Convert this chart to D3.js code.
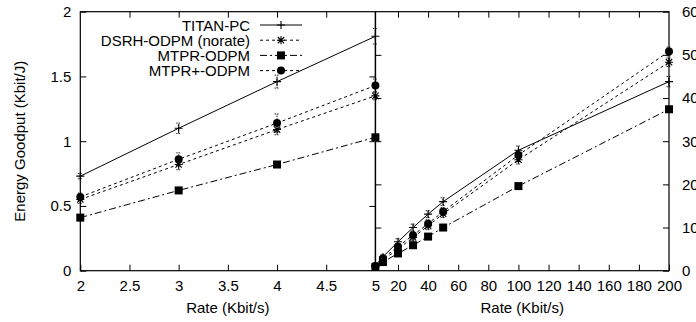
<!DOCTYPE html>
<html>
<head>
<meta charset="utf-8">
<script src="https://cdn.jsdelivr.net/npm/d3@7"></script>
<style>
  html, body { margin: 0; padding: 0; background: #fff; }
  svg { display: block; font-family: "Liberation Sans", Arial, Helvetica, sans-serif; }
</style>
</head>
<body>
<svg id="chart" width="696" height="322"></svg>
<script>
// ---------- data ----------
const leftRates = [2, 3, 4, 5];
const titanLeft = [0.73, 1.10, 1.46, 1.81];
const dsrhLeft = [0.55, 0.82, 1.09, 1.35];
const mtprLeft = [0.41, 0.62, 0.82, 1.03];
const mtprPlusLeft = [0.57, 0.86, 1.14, 1.43];
const titanLeftErr = [0.02, 0.04, 0.05, 0.06];
const dsrhLeftErr = [0.03, 0.04, 0.04, 0.03];
const mtprLeftErr = [0.01, 0.01, 0.02, 0.02];
const mtprPlusLeftErr = [0.03, 0.05, 0.07, 0.05];

const rightRates = [5, 10, 20, 30, 40, 50, 100, 200];
const titanRight = [1.2, 3.2, 6.7, 10.0, 13.1, 16.0, 27.9, 43.8];
const dsrhRight = [1.0, 2.5, 5.0, 7.7, 10.4, 13.2, 25.7, 48.3];
const mtprRight = [0.9, 2.0, 4.0, 5.9, 7.9, 10.0, 19.6, 37.4];
const mtprPlusRight = [1.1, 2.8, 5.6, 8.2, 10.9, 13.7, 26.8, 50.8];
const titanRightErr = [0.3, 0.5, 0.7, 0.8, 0.8, 0.9, 1.0, 1.2];
const dsrhRightErr = [0.3, 0.5, 0.7, 0.8, 0.9, 0.9, 1.0, 1.0];
const mtprRightErr = [0.2, 0.2, 0.3, 0.3, 0.3, 0.3, 0.4, 0.5];
const mtprPlusRightErr = [0.3, 0.5, 0.7, 0.8, 0.9, 0.9, 1.0, 1.0];

const leftXTicks = [2, 2.5, 3, 3.5, 4, 4.5, 5];
const leftYTicks = [0, 0.5, 1, 1.5, 2];
const rightXTicks = [5, 20, 40, 60, 80, 100, 120, 140, 160, 180, 200];
const rightYTicks = [0, 10, 20, 30, 40, 50, 60];

const seriesNames = ["TITAN-PC", "DSRH-ODPM (norate)", "MTPR-ODPM", "MTPR+-ODPM"];
const seriesMarkers = ["plus", "star", "square", "circle"];
const seriesDash = [null, "3,3", "7,3,2,3", "3,3"];

// ---------- layout ----------
const svg = d3.select("#chart");
const pTop = 11.7, pBottom = 270.7, pLeft = 80.3, pMid = 375.4, pRight = 669;

const xL = d3.scaleLinear().domain([2, 5]).range([pLeft, pMid]);
const yL = d3.scaleLinear().domain([0, 2]).range([pBottom, pTop]);
const xR = d3.scaleLinear().domain([5, 200]).range([pMid, pRight]);
const yR = d3.scaleLinear().domain([0, 60]).range([pBottom, pTop]);

const tickLen = 6;
const fontSize = 15;

function axisG(axis, tx, ty) {
  const g = svg.append("g").attr("transform", `translate(${tx},${ty})`).call(axis);
  g.select(".domain").remove();
  g.selectAll("line").attr("stroke", "#000").attr("stroke-width", 1);
  g.selectAll("text").attr("font-size", fontSize).attr("fill", "#000")
    .attr("font-family", '"Liberation Sans", Arial, sans-serif');
  return g;
}

// left panel
axisG(d3.axisBottom(xL).tickValues(leftXTicks.slice(0, -1)).tickFormat(d3.format("")).tickSizeInner(-tickLen).tickPadding(10), 0, pBottom);
axisG(d3.axisTop(xL).tickValues(leftXTicks.slice(1, -1)).tickFormat("").tickSizeInner(-tickLen), 0, pTop);
axisG(d3.axisLeft(yL).tickValues(leftYTicks).tickFormat(d3.format("")).tickSizeInner(-tickLen).tickPadding(9), pLeft, 0);
axisG(d3.axisRight(yL).tickValues(leftYTicks.slice(1, -1)).tickFormat("").tickSizeInner(-tickLen), pMid, 0);

// right panel
axisG(d3.axisBottom(xR).tickValues(rightXTicks).tickFormat(d3.format("")).tickSizeInner(-tickLen).tickPadding(10), 0, pBottom)
  .selectAll(".tick line").filter(d => d === 5).remove();
axisG(d3.axisTop(xR).tickValues(rightXTicks.slice(1, -1)).tickFormat("").tickSizeInner(-tickLen), 0, pTop);
axisG(d3.axisRight(yR).tickValues(rightYTicks).tickFormat(d3.format("")).tickSizeInner(-tickLen).tickPadding(13), pRight, 0);
axisG(d3.axisLeft(yR).tickValues(rightYTicks.slice(1, -1)).tickFormat("").tickSizeInner(-tickLen), pMid, 0);

// frame
svg.append("rect").attr("x", pLeft).attr("y", pTop).attr("width", pRight - pLeft).attr("height", pBottom - pTop)
  .attr("fill", "none").attr("stroke", "#000").attr("stroke-width", 1.2);
svg.append("line").attr("x1", pMid).attr("x2", pMid).attr("y1", pTop).attr("y2", pBottom)
  .attr("stroke", "#000").attr("stroke-width", 1.5);

// axis titles
svg.append("text").attr("x", (pLeft + pMid) / 2).attr("y", 313).attr("text-anchor", "middle")
  .attr("font-size", fontSize).text("Rate (Kbit/s)");
svg.append("text").attr("x", (pMid + pRight) / 2).attr("y", 313).attr("text-anchor", "middle")
  .attr("font-size", fontSize).text("Rate (Kbit/s)");
svg.append("text").attr("transform", `translate(25,${(pTop + pBottom) / 2}) rotate(-90)`)
  .attr("text-anchor", "middle").attr("font-size", fontSize).text("Energy Goodput (Kbit/J)");

function drawMarker(g, type, x, y) {
  if (type === "plus") {
    g.append("path").attr("d", `M${x - 4},${y}H${x + 4}M${x},${y - 4}V${y + 4}`)
      .attr("stroke", "#000").attr("stroke-width", 1.1).attr("fill", "none");
  } else if (type === "star") {
    g.append("path").attr("d", `M${x - 4},${y}H${x + 4}M${x},${y - 4}V${y + 4}M${x - 3.2},${y - 3.2}L${x + 3.2},${y + 3.2}M${x - 3.2},${y + 3.2}L${x + 3.2},${y - 3.2}`)
      .attr("stroke", "#000").attr("stroke-width", 1.1).attr("fill", "none");
  } else if (type === "square") {
    g.append("rect").attr("x", x - 4).attr("y", y - 4).attr("width", 8).attr("height", 8).attr("fill", "#000");
  } else {
    g.append("circle").attr("cx", x).attr("cy", y).attr("r", 4).attr("fill", "#000");
  }
}

function drawSeries(xs, ys, errs, xScale, yScale, i) {
  const g = svg.append("g");
  const line = d3.line().x((d, k) => xScale(xs[k])).y(d => yScale(d));
  g.append("path").attr("d", line(ys)).attr("fill", "none").attr("stroke", "#000")
    .attr("stroke-width", 1).attr("stroke-dasharray", seriesDash[i]);
  ys.forEach((v, k) => {
    const x = xScale(xs[k]);
    const y1 = yScale(v - errs[k]), y2 = yScale(v + errs[k]);
    g.append("path").attr("d", `M${x},${y1}V${y2}M${x - 2.5},${y1}H${x + 2.5}M${x - 2.5},${y2}H${x + 2.5}`)
      .attr("stroke", "#000").attr("stroke-width", 0.8).attr("stroke-dasharray", "1.5,1").attr("fill", "none");
    drawMarker(g, seriesMarkers[i], x, yScale(v));
  });
}

const leftData = [titanLeft, dsrhLeft, mtprLeft, mtprPlusLeft];
const leftErrs = [titanLeftErr, dsrhLeftErr, mtprLeftErr, mtprPlusLeftErr];
const rightData = [titanRight, dsrhRight, mtprRight, mtprPlusRight];
const rightErrs = [titanRightErr, dsrhRightErr, mtprRightErr, mtprPlusRightErr];
leftData.forEach((d, i) => drawSeries(leftRates, d, leftErrs[i], xL, yL, i));
rightData.forEach((d, i) => drawSeries(rightRates, d, rightErrs[i], xR, yR, i));

// legend
const lg = svg.append("g");
seriesNames.forEach((name, i) => {
  const y = 25 + i * 15.2;
  lg.append("text").attr("x", 250).attr("y", y + 5.5).attr("text-anchor", "end")
    .attr("font-size", fontSize).text(name);
  lg.append("line").attr("x1", 260).attr("x2", 302).attr("y1", y).attr("y2", y)
    .attr("stroke", "#000").attr("stroke-width", 1).attr("stroke-dasharray", seriesDash[i]);
  drawMarker(lg, seriesMarkers[i], 281, y);
});
</script>
</body>
</html>
